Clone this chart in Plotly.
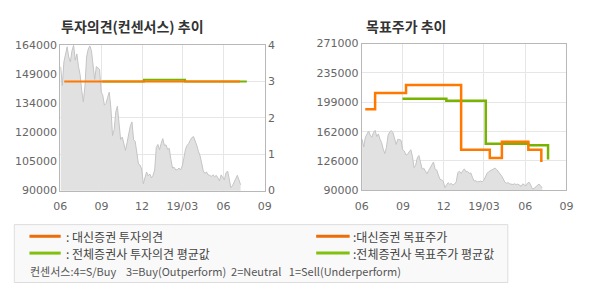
import pandas as pd
import plotly.graph_objects as go

# ---- data ----
price_values = [
    153000, 143500, 155500, 158800, 163200, 158000, 155500, 161200, 164000, 156400,
    159600, 153100, 149000, 140900, 135200, 143300, 158000, 162000, 163700, 161200,
    154700, 146600, 153100, 152300, 151800, 140100, 138500, 133500, 134400, 137500,
    140100, 132000, 118000, 121000, 130000, 133000, 124000, 116000, 117300, 114100,
    110500, 114500, 118500, 123000, 125000, 116000, 115000, 109000, 103500, 103000,
    101000, 93500, 96000, 99500, 97500, 98500, 96500, 97800, 100500, 112000,
    113500, 110800, 114000, 116500, 113000, 113300, 111000, 111500, 106000, 101500,
    101900, 100500, 100700, 101500, 100500, 102500, 106500, 111000, 113000, 114000,
    115700, 117000, 117500, 115500, 113000, 110000, 107800, 104000, 100000, 98800,
    99500, 98000, 97800, 97200, 98100, 97000, 97800, 96500, 95000, 98000,
    97000, 95500, 99000, 100000, 96000, 91500, 92500, 94500, 96000, 97800,
    95500, 93000,
]
price_start = "2018-06-02"
price_end = "2019-07-09"

opinion_daishin_dates = ["2018-06-10", "2019-07-08"]
opinion_daishin_values = [3, 3]
opinion_avg_dates = ["2018-09-03", "2018-12-05", "2019-03-07", "2019-07-23"]
opinion_avg_values = [3.0, 3.05, 3.0, 3.0]

target_daishin_dates = ["2018-06-09", "2018-07-01", "2018-09-08", "2019-01-09",
                        "2019-03-14", "2019-04-10", "2019-06-08", "2019-07-07"]
target_daishin_values = [190000, 210000, 220000, 140000, 130000, 150000, 140000, 125000]
target_avg_dates = ["2018-08-31", "2018-12-07", "2019-03-05", "2019-06-08", "2019-07-22"]
target_avg_values = [203000, 200500, 147500, 145500, 128000]

x_tickvals = ["2018-06-01", "2018-09-01", "2018-12-01", "2019-03-01", "2019-06-01", "2019-09-01"]
x_ticktext = ["06", "09", "12", "19/03", "06", "09"]
left_y_tickvals = [90000, 104800, 119600, 134400, 149200, 164000]
left_y_ticktext = ["90000", "105000", "120000", "134000", "149000", "164000"]
right_y_tickvals = [90000, 126200, 162400, 198600, 234800, 271000]
right_y_ticktext = ["90000", "126000", "162000", "199000", "235000", "271000"]

ORANGE = "#ff7800"
GREEN = "#77b300"
PRICE_FILL = "#e1e1e1"
PRICE_LINE = "#c4c4c4"
BORDER = "#b8b8b8"
GRID = "#e6e6e6"
TICKFONT = dict(family="DejaVu Sans", size=11, color="#666666")

price_dates = pd.date_range(price_start, price_end, periods=len(price_values))

fig = go.Figure()
# left chart
fig.add_trace(go.Scatter(x=price_dates, y=price_values, mode="lines", fill="tozeroy",
                         fillcolor=PRICE_FILL, line=dict(color=PRICE_LINE, width=1),
                         xaxis="x", yaxis="y", hoverinfo="skip"))
fig.add_trace(go.Scatter(x=opinion_avg_dates, y=opinion_avg_values, mode="lines",
                         line=dict(color=GREEN, width=2, shape="hv"), xaxis="x", yaxis="y2"))
fig.add_trace(go.Scatter(x=opinion_daishin_dates, y=opinion_daishin_values, mode="lines",
                         line=dict(color=ORANGE, width=2, shape="hv"), xaxis="x", yaxis="y2"))
# right chart
fig.add_trace(go.Scatter(x=price_dates, y=price_values, mode="lines", fill="tozeroy",
                         fillcolor=PRICE_FILL, line=dict(color=PRICE_LINE, width=1),
                         xaxis="x2", yaxis="y3", hoverinfo="skip"))
fig.add_trace(go.Scatter(x=target_avg_dates, y=target_avg_values, mode="lines",
                         line=dict(color=GREEN, width=2.5, shape="hv"), xaxis="x2", yaxis="y3"))
fig.add_trace(go.Scatter(x=target_daishin_dates, y=target_daishin_values, mode="lines",
                         line=dict(color=ORANGE, width=2.5, shape="hv"), xaxis="x2", yaxis="y3"))

W, H = 590, 300
def px(x):
    return x / W
def py(y):
    return 1 - y / H

xcommon = dict(type="date", range=["2018-06-01", "2019-09-01"], tickvals=x_tickvals,
               ticktext=x_ticktext, showgrid=True, gridcolor=GRID, gridwidth=1,
               showline=True, linecolor=BORDER, linewidth=1, mirror=True,
               ticks="", tickfont=TICKFONT, zeroline=False, fixedrange=True,
               ticklabelstandoff=5)

fig.update_layout(
    width=W, height=H, margin=dict(l=0, r=0, t=0, b=0),
    paper_bgcolor="white", plot_bgcolor="white", showlegend=False,
    xaxis=dict(domain=[px(54.5), px(264)], anchor="y", **xcommon),
    yaxis=dict(domain=[py(193), py(41)], anchor="x", range=[90000, 164000],
               tickvals=left_y_tickvals, ticktext=left_y_ticktext, showgrid=False,
               showline=True, linecolor=BORDER, ticks="", tickfont=TICKFONT, zeroline=False),
    yaxis2=dict(overlaying="y", side="right", anchor="x", range=[0, 4], dtick=1,
                tickvals=[0, 1, 2, 3, 4], showgrid=True, gridcolor=GRID,
                showline=True, linecolor=BORDER, ticks="", tickfont=TICKFONT, zeroline=False),
    xaxis2=dict(domain=[px(363.3), px(573)], anchor="y3", **xcommon),
    yaxis3=dict(domain=[py(192.7), py(39.3)], anchor="x2", range=[90000, 271000],
                tickvals=right_y_tickvals, ticktext=right_y_ticktext, showgrid=True,
                gridcolor=GRID, showline=True, linecolor=BORDER, mirror=True, ticks="",
                tickfont=TICKFONT, zeroline=False),
)

KFONT = "Noto Sans CJK KR"
annotations = [
    dict(text="<b>투자의견(컨센서스) 추이</b>", x=px(53), y=py(20.5), xanchor="left", yanchor="middle",
         font=dict(family=KFONT, size=14, color="#333333")),
    dict(text="<b>목표주가 추이</b>", x=px(365.5), y=py(20.5), xanchor="left", yanchor="middle",
         font=dict(family=KFONT, size=14, color="#333333")),
    dict(text=": 대신증권 투자의견", x=px(58), y=py(240.7), xanchor="left", yanchor="middle",
         font=dict(family=KFONT, size=12, color="#444444")),
    dict(text=": 전체증권사 투자의견 평균값", x=px(58), y=py(258.3), xanchor="left", yanchor="middle",
         font=dict(family=KFONT, size=12, color="#444444")),
    dict(text=":대신증권 목표주가", x=px(352.5), y=py(240.7), xanchor="left", yanchor="middle",
         font=dict(family=KFONT, size=12, color="#444444")),
    dict(text=":전체증권사 목표주가 평균값", x=px(352.5), y=py(258.3), xanchor="left", yanchor="middle",
         font=dict(family=KFONT, size=12, color="#444444")),
    dict(text="컨센서스:4=S/Buy&nbsp;&nbsp;&nbsp;&nbsp;3=Buy(Outperform)&nbsp;&nbsp;2=Neutral&nbsp;&nbsp;&nbsp;1=Sell(Underperform)",
         x=px(21), y=py(276.7), xanchor="left", yanchor="middle",
         font=dict(family=KFONT, size=11, color="#555555")),
]
for a in annotations:
    a.update(xref="paper", yref="paper", showarrow=False)
fig.update_layout(annotations=annotations)

shapes = [
    dict(type="rect", x0=px(7.5), x1=px(513), y0=py(289), y1=py(228.5),
         fillcolor="#f9f9f9", line=dict(color="#dddddd", width=1), layer="below"),
    dict(type="line", x0=px(23), x1=px(55), y0=py(240.7), y1=py(240.7), line=dict(color="#ec6c0a", width=3)),
    dict(type="line", x0=px(23), x1=px(55), y0=py(258.3), y1=py(258.3), line=dict(color="#82c00e", width=3)),
    dict(type="line", x0=px(316.7), x1=px(351), y0=py(240.7), y1=py(240.7), line=dict(color="#ec6c0a", width=3)),
    dict(type="line", x0=px(316.7), x1=px(351), y0=py(258.3), y1=py(258.3), line=dict(color="#82c00e", width=3)),
]
for s in shapes:
    s.update(xref="paper", yref="paper")
fig.update_layout(shapes=shapes)

fig.write_html("out.html")
